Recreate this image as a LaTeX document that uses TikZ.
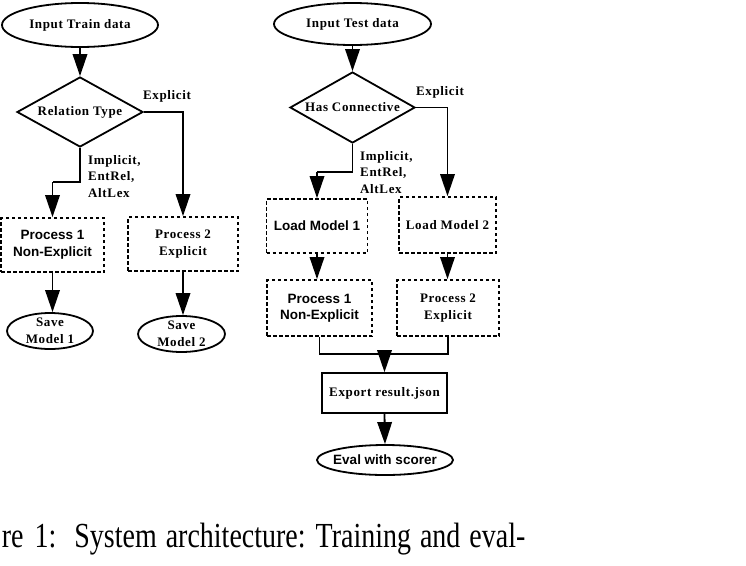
\documentclass[tikz,border=0pt]{standalone}
\usepackage{fontspec}
\setmainfont{Liberation Serif}
\newfontfamily\dserif[LetterSpace=5]{Liberation Serif}
\newfontfamily\dsans{Liberation Sans}
\newfontfamily\capfont[FakeStretch=0.795]{Liberation Serif}
\usetikzlibrary{shapes.geometric,arrows.meta}
\newcommand{\zw}[1]{\makebox[0pt]{#1}}
\newcommand{\gp}[1]{\hspace*{#1pt}}
\tikzset{
  ser/.style={font=\dserif\bfseries\fontsize{13}{16.5}\selectfont, align=center},
  san/.style={font=\dsans\bfseries\fontsize{13.5}{16.5}\selectfont, align=center},
  oval/.style={draw, ellipse, line width=1.8pt, inner sep=0pt},
  dbox/.style={draw, rectangle, dash pattern=on 3.5pt off 2.5pt, line width=1.8pt, inner sep=0pt},
  sbox/.style={draw, rectangle, line width=1.6pt, inner sep=0pt},
  dec/.style={draw, diamond, line width=1.8pt, inner sep=0pt},
  conn/.style={line width=1.8pt, -{Triangle[length=22pt,width=14.5pt]}},
  wire/.style={line width=1.8pt},
  lbl/.style={ser, inner sep=0pt},
}
\begin{document}
\begin{tikzpicture}[x=1pt,y=-1pt]
\useasboundingbox (0,0) rectangle (746,565);

% ---------- training chart ----------
\node[oval, ser, minimum width=156pt, minimum height=44pt] (in1) at (80,25) {Input Train data};
\node[dec, ser, minimum width=126pt, minimum height=70pt] (d1) at (80,112) {\zw{Relation Type}};
\node[dbox, san, minimum width=103pt, minimum height=54pt] (p1) at (52.5,245) {Process 1\\Non-Explicit};
\node[dbox, ser, minimum width=110pt, minimum height=54pt] (p2) at (183,244) {Process 2\\Explicit};
\node[oval, ser, minimum width=86pt, minimum height=36pt] (s1) at (50,331) {Save\\Model 1};
\node[oval, ser, minimum width=87pt, minimum height=36pt] (s2) at (181.5,334) {Save\\Model 2};
\coordinate (j1) at (52.5,182);

\node[lbl] (e1) at (167,96) {Explicit};
\node[lbl, anchor=north west, align=left] (i1) at (88,155) {Implicit,\\EntRel,\\AltLex};

\draw[conn] (in1.south) -- (d1.north);
\draw[conn] (d1.east) -| (p2.north);
\draw[wire] (d1.south) |- (j1);
\draw[conn] (j1) -- (p1.north);
\draw[conn] (p1.south) -- (p1.south |- s1.north);
\draw[conn] (p2.south) -- (p2.south |- s2.north);

% ---------- evaluation chart ----------
\node[oval, ser, minimum width=157pt, minimum height=42pt] (in2) at (352.5,24) {Input Test data};
\node[dec, ser, minimum width=125pt, minimum height=71pt] (d2) at (352.5,107.5) {\zw{Has Connective}};
\node[dbox, san, minimum width=101pt, minimum height=54pt] (l1) at (317,226) {\zw{Load Model 1}};
\node[dbox, ser, minimum width=97pt, minimum height=56pt] (l2) at (447.5,225) {\zw{Load Model 2}};
\node[dbox, san, minimum width=105pt, minimum height=56pt] (q1) at (319.5,308) {Process 1\\Non-Explicit};
\node[dbox, ser, minimum width=102pt, minimum height=56pt] (q2) at (448,308) {Process 2\\Explicit};
\node[sbox, ser, minimum width=125pt, minimum height=40pt] (ex) at (384.5,393) {\zw{Export result.json}};
\node[oval, san, minimum width=136pt, minimum height=30pt] (ev) at (385,460) {\zw{Eval with scorer}};
\coordinate (j2) at (317,172);
\coordinate (jm) at (384.5,354);

\node[lbl] (e2) at (440,92) {Explicit};
\node[lbl, anchor=north west, align=left] (i2) at (360,151) {Implicit,\\EntRel,\\AltLex};

\draw[conn] (in2.south) -- (d2.north);
\draw[conn] (d2.east) -| (l2.north);
\draw[wire] (d2.south) |- (j2);
\draw[conn] (j2) -- (l1.north);
\draw[conn] (l1.south) -- (l1.south |- q1.north);
\draw[conn] (l2.south) -- (l2.south |- q2.north);
\draw[wire] (q1.south) |- (jm) -| (q2.south);
\draw[conn] (jm) -- (ex.north);
\draw[conn] (ex.south) -- (ev.north);

% ---------- caption ----------
\node[font=\capfont\fontsize{35.2}{40}\selectfont, anchor=base west, inner sep=0pt] (cap) at (1.7,547)
  {re\gp{11}1:\gp{18}System\gp{9}architecture:\gp{10}Training\gp{9}and\gp{9}eval-};
\end{tikzpicture}
\end{document}
